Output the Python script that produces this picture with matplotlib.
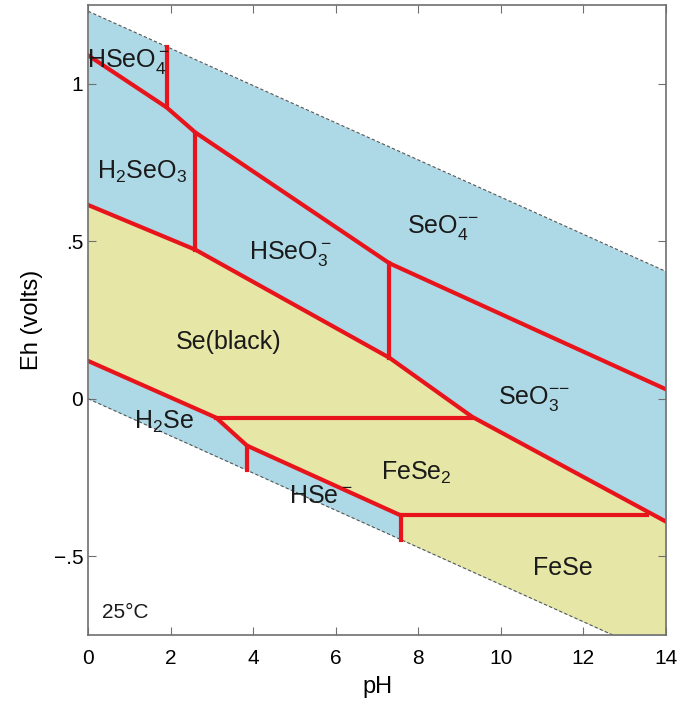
import matplotlib
matplotlib.use('Agg')
import matplotlib.pyplot as plt

plt.rcParams['font.family'] = ['Liberation Sans', 'DejaVu Sans']
plt.rcParams['mathtext.default'] = 'regular'

# water stability limits (Eh at pH 0 and pH 14)
water_ph = [0, 14]
water_top = [1.23, 0.404]
water_bot = [0.0, -0.826]

# species boundaries (pH, Eh)
b_seo4_ph = [0, 1.9, 2.6, 7.3, 14]
b_seo4_eh = [1.09, 0.925, 0.845, 0.43, 0.03]

b_se_top_ph = [0, 2.6, 7.3, 9.3, 14]
b_se_top_eh = [0.615, 0.473, 0.13, -0.057, -0.39]

b_se_bot_ph = [0, 3.1, 3.85, 7.57]
b_se_bot_eh = [0.12, -0.06, -0.149, -0.37]

# vertical boundaries: (pH, Eh low, Eh high)
verticals = [(1.9, 0.925, 1.118), (2.6, 0.473, 0.845), (7.3, 0.13, 0.43),
             (3.85, -0.227, -0.149), (7.57, -0.447, -0.37)]
# horizontal boundaries: (Eh, pH from, pH to)
horizontals = [(-0.06, 3.1, 9.3), (-0.37, 7.57, 13.55)]

dm = r'{{-}{-}}'
labels = [('HSe$O_4^-$', 0.97, 1.07), ('$H_2$Se$O_3$', 1.3, 0.72),
          ('HSe$O_3^-$', 4.9, 0.46), ('Se$O_4^' + dm + '$', 8.6, 0.545),
          ('Se(black)', 3.4, 0.18), ('Se$O_3^' + dm + '$', 10.8, 0.0),
          ('$H_2$Se', 1.85, -0.075), ('FeS$e_2$', 7.95, -0.235),
          ('HS$e^-$', 5.65, -0.31), ('FeSe', 11.5, -0.537)]

blue = '#add8e6'
yellow = '#e6e6a6'
red = '#e8141c'

fig, ax = plt.subplots(figsize=(6.83, 7.04), dpi=100)
fig.subplots_adjust(left=0.129, right=0.975, top=0.993, bottom=0.098)

ax.fill_between(water_ph, water_bot, water_top, color=blue, lw=0)

# solid phases (yellow)
poly_x = b_se_top_ph + [14, b_se_bot_ph[-1]] + b_se_bot_ph[::-1]
poly_y = b_se_top_eh + [water_bot[1], water_bot[0] - 0.059 * b_se_bot_ph[-1]] + b_se_bot_eh[::-1]
ax.fill(poly_x, poly_y, color=yellow, lw=0)

ax.plot(water_ph, water_top, ls='--', color='#555555', lw=0.8, dashes=(3, 2))
ax.plot(water_ph, water_bot, ls='--', color='#555555', lw=0.8, dashes=(3, 2))

for xs, ys in [(b_seo4_ph, b_seo4_eh), (b_se_top_ph, b_se_top_eh), (b_se_bot_ph, b_se_bot_eh)]:
    ax.plot(xs, ys, color=red, lw=3, solid_joinstyle='round', solid_capstyle='round')
for x, y0, y1 in verticals:
    ax.plot([x, x], [y0, y1], color=red, lw=3)
for y, x0, x1 in horizontals:
    ax.plot([x0, x1], [y, y], color=red, lw=3)

for txt, x, y in labels:
    ax.text(x, y, txt, fontsize=18, ha='center', va='center', color='#1a1a1a', zorder=5)
ax.text(0.9, -0.68, '25°C', fontsize=15, ha='center', va='center', color='#1a1a1a')

ax.set_xlim(0, 14)
ax.set_ylim(-0.75, 1.25)
ax.set_xticks(range(0, 15, 2))
ax.set_yticks([-0.5, 0, 0.5, 1])
ax.set_yticklabels(['\u2212.5', '0', '.5', '1'])
ax.tick_params(direction='in', top=True, right=True, labelsize=15, length=6, color='#707070')
ax.tick_params(axis='x', pad=10)
for s in ax.spines.values():
    s.set_color('#707070')
    s.set_linewidth(1.2)
ax.set_xlabel('pH', fontsize=17, labelpad=6)
ax.set_ylabel('Eh (volts)', fontsize=17, labelpad=8)

fig.savefig('out.png')
